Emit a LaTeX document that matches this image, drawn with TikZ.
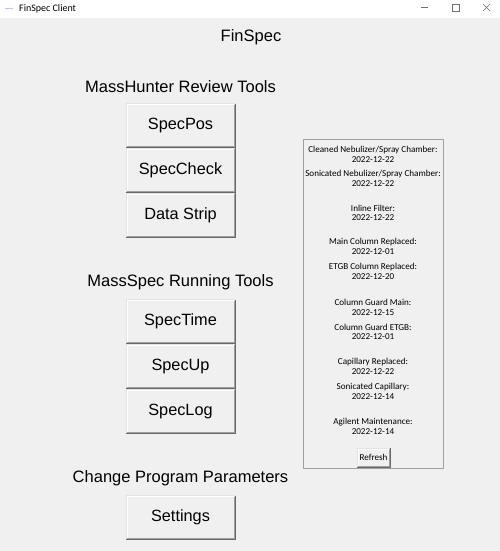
\documentclass[tikz,border=0pt]{standalone}
\usepackage{fontspec}
\setmainfont{Liberation Sans}
\newfontfamily\uifont{Carlito}
\usetikzlibrary{positioning}
\definecolor{winbg}{HTML}{F0F0F0}
\definecolor{edgedark}{HTML}{696969}
\definecolor{edgemid}{HTML}{A0A0A0}
\definecolor{edgelight}{HTML}{E3E3E3}
\definecolor{ctlgray}{HTML}{707070}
\tikzset{
  btn/.style={fill=winbg, minimum width=109pt, minimum height=44.5pt, inner sep=0pt,
    font=\fontsize{16.3}{18}\selectfont},
  smallbtn/.style={fill=winbg, minimum width=33pt, minimum height=19pt, inner sep=0pt,
    font=\uifont\fontsize{9.1}{10}\selectfont},
  heading/.style={inner sep=0pt, font=\fontsize{16.5}{18}\selectfont},
  info/.style={inner sep=0pt, font=\uifont\fontsize{9.1}{10}\selectfont},
}
\newcommand\relief[1]{%
  \draw[edgelight] ([shift={(0.5,-0.5)}]#1.south west) |- ([shift={(-0.5,0.5)}]#1.north east);
  \draw[white] ([shift={(1.5,-1.5)}]#1.south west) |- ([shift={(-1.5,1.5)}]#1.north east);
  \draw[edgemid] ([shift={(1.5,-1.5)}]#1.south west) -| ([shift={(-1.5,1.5)}]#1.north east);
  \draw[edgedark] ([shift={(0.5,-0.5)}]#1.south west) -| ([shift={(-0.5,0.5)}]#1.north east);
}
\begin{document}
\begin{tikzpicture}[x=1pt,y=-1pt]
  \useasboundingbox (0,0) rectangle (500,551);
  % window
  \fill[white] (0,0) rectangle (500,18);
  \fill[winbg] (0,18) rectangle (500,551);
  \draw[blue!25, line width=1pt] (5,9) -- (13,9);
  \node[info, font=\uifont\fontsize{10}{11}\selectfont, anchor=west] (wintitle) at (19,8.5) {FinSpec Client};
  \draw[ctlgray] (421,7.5) -- (428,7.5);
  \draw[ctlgray] (452,4) rectangle (459,11);
  \draw[ctlgray] (483,4) -- (490,11) (483,11) -- (490,4);

  \node[heading] (title) at (251,37) {FinSpec};

  % review tools
  \node[heading] (review) at (180.5,86.5) {MassHunter Review Tools};
  \node[btn] (specpos) at (180.5,125.5) {SpecPos};
  \node[btn, below=0pt of specpos] (speccheck) {SpecCheck};
  \node[btn, below=0pt of speccheck] (datastrip) {Data Strip};

  % running tools
  \node[heading] (running) at (180.5,282.5) {MassSpec Running Tools};
  \node[btn] (spectime) at (180.5,321.5) {SpecTime};
  \node[btn, below=0pt of spectime] (specup) {SpecUp};
  \node[btn, below=0pt of specup] (speclog) {SpecLog};

  % parameters
  \node[heading] (params) at (180.5,478.5) {Change Program Parameters};
  \node[btn] (settings) at (180.5,517.5) {Settings};

  \relief{specpos}
  \relief{speccheck}
  \relief{datastrip}
  \relief{spectime}
  \relief{specup}
  \relief{speclog}
  \relief{settings}

  % maintenance panel
  \node[draw=edgemid, minimum width=140pt, minimum height=329pt, inner sep=0pt] (panel) at (373,303.5) {};
  \path
    (373,150) node[info] (l1) {Cleaned Nebulizer/Spray Chamber:}
    (373,159.5) node[info] (d1) {2022-12-22}
    (373,174) node[info] (l2) {Sonicated Nebulizer/Spray Chamber:}
    (373,184) node[info] (d2) {2022-12-22}
    (373,208) node[info] (l3) {Inline Filter:}
    (373,218) node[info] (d3) {2022-12-22}
    (373,242) node[info] (l4) {Main Column Replaced:}
    (373,252) node[info] (d4) {2022-12-01}
    (373,267) node[info] (l5) {ETGB Column Replaced:}
    (373,277) node[info] (d5) {2022-12-20}
    (373,302) node[info] (l6) {Column Guard Main:}
    (373,313) node[info] (d6) {2022-12-15}
    (373,327) node[info] (l7) {Column Guard ETGB:}
    (373,337) node[info] (d7) {2022-12-01}
    (373,362) node[info] (l8) {Capillary Replaced:}
    (373,372) node[info] (d8) {2022-12-22}
    (373,387) node[info] (l9) {Sonicated Capillary:}
    (373,397) node[info] (d9) {2022-12-14}
    (373,422) node[info] (l10) {Agilent Maintenance:}
    (373,432) node[info] (d10) {2022-12-14};
  \node[smallbtn] (refresh) at (373.5,457.5) {Refresh};
  \relief{refresh}
\end{tikzpicture}
\end{document}
